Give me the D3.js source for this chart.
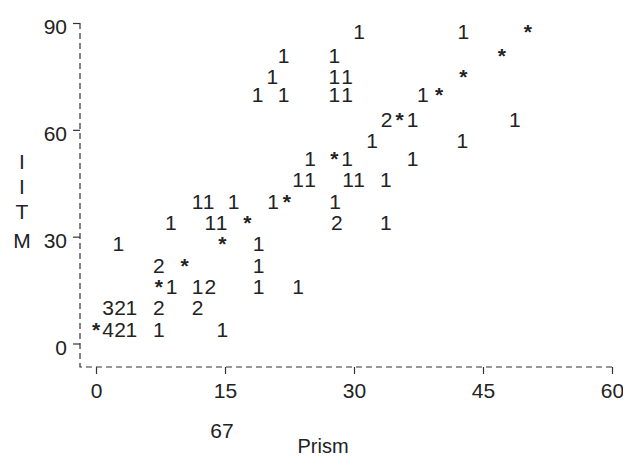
<!DOCTYPE html>
<html>
<head>
<meta charset="utf-8">
<script src="https://cdn.jsdelivr.net/npm/d3@7"></script>
<style>
  body { margin: 0; background: #fff; }
  svg text { font-family: "Liberation Sans", Arial, Helvetica, sans-serif; fill: #222; }
</style>
</head>
<body>
<div id="chart"></div>
<script>
// character plot: each row of ITM holds count glyphs ("*" = many) at Prism positions
var rowItm = [4, 10, 16, 22, 28, 34, 40, 46, 52, 57, 63, 70, 75, 81, 87.5];
var rowMarks = [
  "*42111",
  "32122",
  "*11211",
  "2*1",
  "1*1",
  "111*21",
  "1111*1",
  "11111",
  "1*11",
  "11",
  "2*11",
  "11111*",
  "111*",
  "11*",
  "11*"
];
var rowPrism = [
  [0, 1.4, 2.8, 4.1, 7.3, 14.7],
  [1.4, 2.8, 4.1, 7.3, 11.8],
  [7.3, 8.8, 11.8, 13.3, 18.9, 23.5],
  [7.3, 10.3, 18.9],
  [2.6, 14.7, 18.9],
  [8.7, 13.3, 14.6, 17.6, 28.0, 33.7],
  [11.8, 13.1, 16.0, 20.6, 22.2, 27.8],
  [23.5, 24.9, 29.3, 30.6, 33.7],
  [24.9, 27.7, 29.2, 36.8],
  [32.1, 42.6],
  [33.8, 35.3, 36.8, 48.7],
  [18.8, 21.8, 27.7, 29.2, 38.0, 39.9],
  [20.5, 27.7, 29.2, 42.7],
  [21.8, 27.7, 47.2],
  [30.6, 42.7, 50.2]
];
var xTicks = [0, 15, 30, 45, 60];
var yTicks = [0, 30, 60, 90];
var yTitle = ["I", "I", "T", "M"];

var width = 623, height = 457;
var axisX = 80, axisY = 367;

var svg = d3.select("#chart").append("svg")
  .attr("width", width)
  .attr("height", height);

var x = d3.scaleLinear().domain([0, 60]).range([96, 612]);
var y = d3.scaleLinear().domain([0, 90]).range([343.5, 23]);

// dashed frame lines
svg.append("path")
  .attr("d", "M" + axisX + "," + y(90) + "V" + axisY + "H" + x(60))
  .attr("fill", "none")
  .attr("stroke", "#333")
  .attr("stroke-width", 1.2)
  .attr("stroke-dasharray", "6,4");

var yAxis = svg.append("g")
  .attr("transform", "translate(" + axisX + ",0)")
  .call(d3.axisLeft(y).tickValues(yTicks).tickSize(7).tickSizeOuter(0).tickPadding(6));

var xAxis = svg.append("g")
  .attr("transform", "translate(0," + axisY + ")")
  .call(d3.axisBottom(x).tickValues(xTicks).tickSize(7).tickSizeOuter(0).tickPadding(9));

[xAxis, yAxis].forEach(function(g) {
  g.select(".domain").remove();
  g.selectAll(".tick line").attr("stroke", "#333").attr("stroke-width", 1.2);
  g.selectAll(".tick text")
    .style("font-size", "21px")
    .attr("fill", "#222");
});
yAxis.selectAll(".tick text").attr("dy", "0.52em");

// glyphs
var glyphs = [];
rowItm.forEach(function(v, i) {
  rowPrism[i].forEach(function(p, j) {
    glyphs.push({prism: p, itm: v, mark: rowMarks[i].charAt(j)});
  });
});

svg.append("g").selectAll("text")
  .data(glyphs)
  .enter().append("text")
  .attr("x", function(d) { return x(d.prism); })
  .attr("y", function(d) { return y(d.itm); })
  .attr("dy", "0.358em")
  .attr("text-anchor", "middle")
  .style("font-size", "21px")
  .style("font-weight", function(d) { return d.mark == "*" ? "bold" : "normal"; })
  .text(function(d) { return d.mark; });

// stacked y title
svg.append("g").selectAll("text")
  .data(yTitle)
  .enter().append("text")
  .attr("x", 22)
  .attr("y", function(d, i) { return [169, 194, 219, 248][i]; })
  .attr("text-anchor", "middle")
  .style("font-size", "21px")
  .text(function(d) { return d; });

svg.append("text")
  .attr("x", 222).attr("y", 438)
  .attr("text-anchor", "middle")
  .style("font-size", "21px")
  .text("67");

svg.append("text")
  .attr("x", 323).attr("y", 453)
  .attr("text-anchor", "middle")
  .style("font-size", "20px")
  .text("Prism");
</script>
</body>
</html>
